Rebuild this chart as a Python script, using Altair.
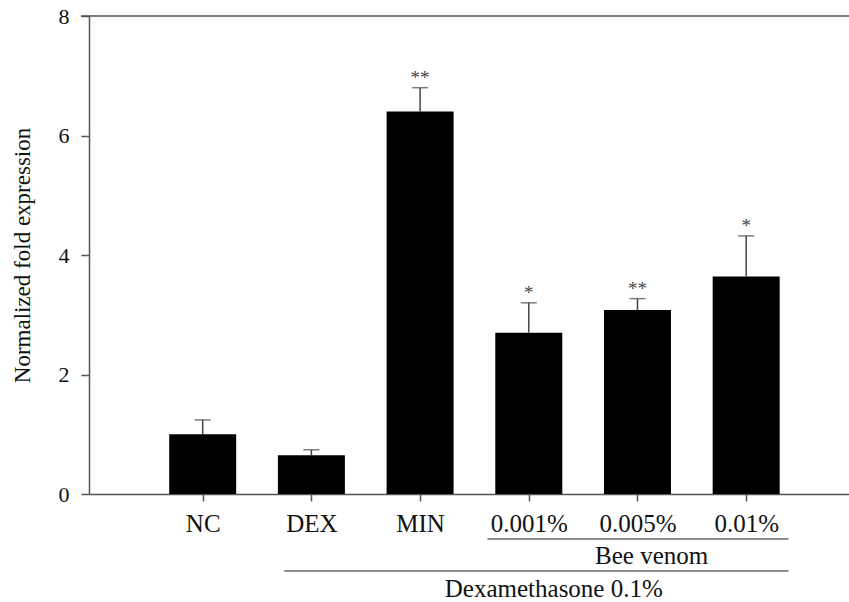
import altair as alt
import pandas as pd

# Groups, mean fold expression, upper error bound and significance marks
groups = ["NC", "DEX", "MIN", "0.001%", "0.005%", "0.01%"]
means = [1.0, 0.65, 6.4, 2.7, 3.08, 3.64]
uppers = [1.24, 0.74, 6.8, 3.2, 3.27, 4.32]
stars = ["", "", "**", "*", "**", "*"]

positions = list(range(1, len(groups) + 1))

df = pd.DataFrame({
    "pos": positions,
    "group": groups,
    "mean": means,
    "upper": uppers,
    "sig": stars,
})

SERIF = "Liberation Serif"
AXIS_GRAY = "#555555"
TEXT = "#111111"

label_map = "{" + ", ".join(f"'{p}': '{g}'" for p, g in zip(positions, groups)) + "}"

x = alt.X(
    "pos:Q",
    scale=alt.Scale(domain=[0, 6.9], nice=False, zero=False),
    axis=alt.Axis(
        values=positions,
        labelExpr=f"{label_map}[datum.value]",
        title=None,
        grid=False,
        domainColor=AXIS_GRAY,
        domainWidth=1.5,
        tickColor=AXIS_GRAY,
        tickWidth=1.5,
        tickSize=7,
        labelPadding=10,
        labelFont=SERIF,
        labelFontSize=25,
        labelColor=TEXT,
    ),
)

y_axis = alt.Axis(
    values=[0, 2, 4, 6, 8],
    format="d",
    title="Normalized fold expression",
    titleFont=SERIF,
    titleFontSize=23,
    titleFontWeight="normal",
    titleColor=TEXT,
    titlePadding=24,
    grid=False,
    domainColor=AXIS_GRAY,
    domainWidth=1.5,
    tickColor=AXIS_GRAY,
    tickWidth=1.5,
    tickSize=8,
    labelPadding=12,
    labelFont=SERIF,
    labelFontSize=22,
    labelColor=TEXT,
)
y = alt.Y("mean:Q", scale=alt.Scale(domain=[0, 8], nice=False), axis=y_axis)

base = alt.Chart(df)

bars = base.mark_bar(color="black", size=67).encode(x=x, y=y)

err = base.mark_rule(color="#444444", strokeWidth=1.5).encode(
    x="pos:Q", y="mean:Q", y2="upper:Q"
)

caps = base.mark_tick(
    color="#444444", orient="horizontal", size=16, thickness=1.5
).encode(x="pos:Q", y="upper:Q")

sig = base.mark_text(
    font=SERIF, fontSize=19, color="#444444", baseline="middle", dy=-10
).encode(x="pos:Q", y="upper:Q", text="sig:N")

# Top frame line at the upper end of the y scale
top_df = pd.DataFrame({"yv": [8]})
top_line = alt.Chart(top_df).mark_rule(color=AXIS_GRAY, strokeWidth=1.5).encode(
    y="yv:Q", x=alt.value(-8), x2=alt.value(760)
)

# Group brackets beneath the category labels
bracket_df = pd.DataFrame({
    "x0": [3.62, 1.75],
    "x1": [6.39, 6.39],
    "ypix": [523, 555],
})
brackets = alt.Chart(bracket_df).mark_rule(color="#222222", strokeWidth=1.2).encode(
    x="x0:Q", x2="x1:Q", y=alt.Y("ypix:Q", scale=None)
)

group_df = pd.DataFrame({
    "xc": [5.13, 4.23],
    "ypix": [540, 573],
    "label": ["Bee venom", "Dexamethasone 0.1%"],
})
group_text = alt.Chart(group_df).mark_text(
    font=SERIF, fontSize=25, color=TEXT, baseline="middle"
).encode(x="xc:Q", y=alt.Y("ypix:Q", scale=None), text="label:N")

chart = (
    alt.layer(bars, err, caps, sig, top_line, brackets, group_text)
    .properties(
        width=760,
        height=478,
        autosize=alt.AutoSizeParams(type="none"),
        padding={"left": 89, "top": 16, "right": 0, "bottom": 108},
        background="white",
    )
    .configure_view(stroke=None)
)

chart.save("out.html", embed_options={"renderer": "svg", "actions": False})
